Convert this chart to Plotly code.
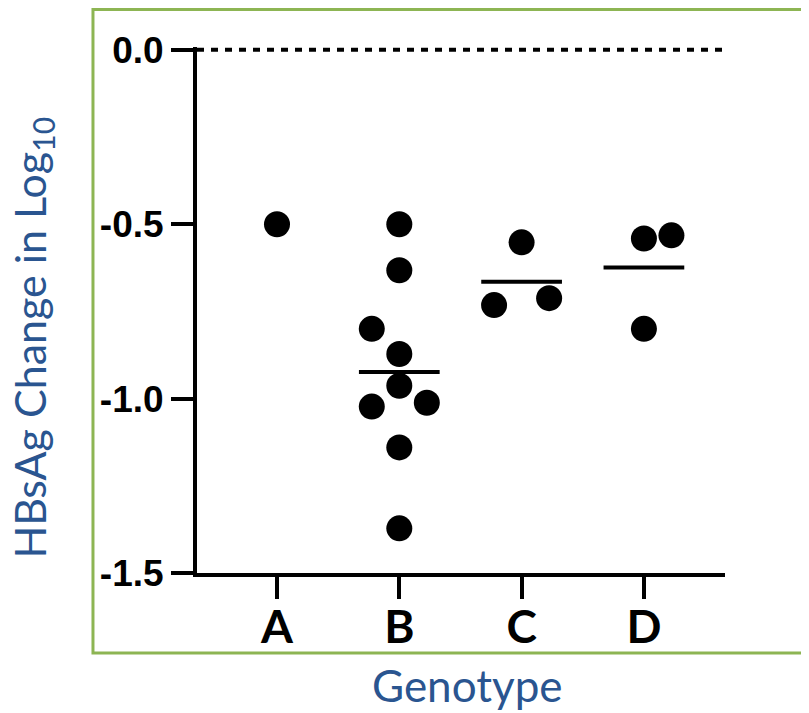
import plotly.graph_objects as go

# ---- data ----
genotypes = ["A", "B", "C", "D"]
values_A = [-0.50]
offsets_A = [0]
values_B = [-0.50, -0.632, -0.80, -0.872, -0.963, -1.023, -1.012, -1.14, -1.372]
offsets_B = [0, 0, -1, 0, 0, -1, 1, 0, 0]
values_C = [-0.552, -0.732, -0.712]
offsets_C = [0, -1, 1]
values_D = [-0.541, -0.532, -0.80]
offsets_D = [0, 1, 0]
reference_value = 0.0
y_tickvals = [0.0, -0.5, -1.0, -1.5]
y_ticktext = ["0.0", "-0.5", "-1.0", "-1.5"]

groups = [values_A, values_B, values_C, values_D]
offsets = [offsets_A, offsets_B, offsets_C, offsets_D]

JITTER = 0.225
HALF = 0.33
BLUE = "#2A5590"

fig = go.Figure()

for i, (vals, offs) in enumerate(zip(groups, offsets)):
    cx = i + 1
    fig.add_trace(go.Scatter(
        x=[cx + o * JITTER for o in offs], y=vals, mode="markers",
        marker=dict(size=26, color="black"), cliponaxis=False,
        showlegend=False, hoverinfo="y"))
    if len(vals) > 1:
        m = sum(vals) / len(vals)
        fig.add_trace(go.Scatter(
            x=[cx - HALF, cx + HALF], y=[m, m], mode="lines",
            line=dict(color="black", width=4), cliponaxis=False,
            showlegend=False, hoverinfo="skip"))

# reference line at zero
fig.add_shape(type="line", xref="paper", x0=0, x1=1.002, yref="y",
              y0=reference_value, y1=reference_value,
              line=dict(color="black", width=4, dash="7px,7px"))

# green frame
fig.add_shape(type="rect", xref="paper", yref="paper",
              x0=-0.197, x1=1.25, y0=-0.152, y1=1.0713,
              line=dict(color="#8DB553", width=3), layer="below")

fig.update_layout(
    width=801, height=705,
    margin=dict(l=189, r=84, t=39, b=140),
    plot_bgcolor="white", paper_bgcolor="white",
    xaxis=dict(
        range=[0.346, 4.663], tickvals=[1, 2, 3, 4], ticktext=genotypes,
        showgrid=False, zeroline=False, showline=True, linecolor="black", linewidth=4,
        ticks="outside", ticklen=22, tickwidth=4, tickcolor="black",
        ticklabelstandoff=-11,
        tickfont=dict(family="Lato", size=46, color="black", weight="bold"),
    ),
    yaxis=dict(
        range=[-1.5, 0.008], tickvals=y_tickvals, ticktext=y_ticktext,
        showgrid=False, zeroline=False, showline=True, linecolor="black", linewidth=4,
        ticks="outside", ticklen=22, tickwidth=4, tickcolor="black",
        tickfont=dict(family="Liberation Sans", size=37, color="black", weight="bold"),
    ),
    annotations=[
        dict(text="Genotype", xref="paper", yref="paper", x=0.513, y=-0.213,
             xanchor="center", yanchor="middle", showarrow=False,
             font=dict(family="Lato", size=44, color=BLUE)),
        dict(text="HBsAg Change in Log<sub>10</sub>", xref="paper", yref="paper",
             x=-0.312, y=0.448, xanchor="center", yanchor="middle", textangle=-90,
             showarrow=False, font=dict(family="Lato", size=43, color=BLUE)),
    ],
)

fig.write_html("out.html")
